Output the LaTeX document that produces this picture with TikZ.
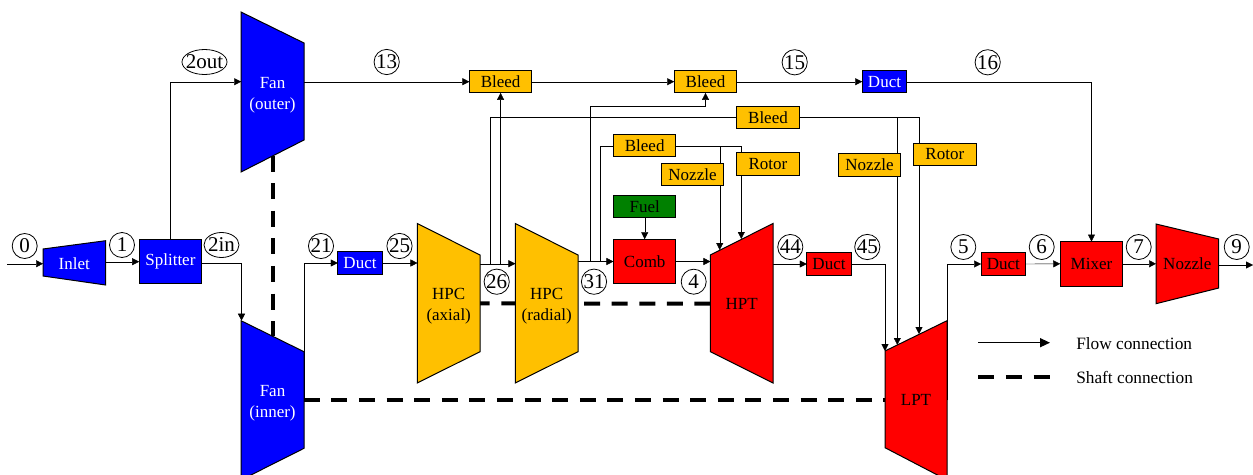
\documentclass[tikz,border=0pt]{standalone}
\usepackage{fontspec}
\setmainfont{Liberation Serif}
\usepackage{tikz}
\usetikzlibrary{arrows.meta,shapes.geometric,backgrounds}
\definecolor{fanblue}{HTML}{0000FF}
\definecolor{compamber}{HTML}{FFC000}
\definecolor{hotred}{HTML}{FF0000}
\definecolor{fuelgreen}{HTML}{008000}
\newcommand{\lowerline}{\rule{0pt}{18pt}}

\begin{document}
\begin{tikzpicture}[x=1pt,y=-1pt,line width=1.5pt,
box/.style={draw,line width=1pt,inner sep=0pt,outer sep=0pt,minimum width=62.5pt,minimum height=22.3pt,align=center,font=\fontsize{17}{21}\selectfont},
tallbox/.style={box,minimum height=44.5pt},
ductbox/.style={box,minimum width=44.5pt},
blade/.style={draw,line width=1pt},
bladetext/.style={box,draw=none,minimum height=160pt},
port/.style={draw,circle,line width=0.8pt,inner sep=0pt,minimum size=25pt,font=\fontsize{21}{21}\selectfont},
portwide/.style={port,ellipse,minimum height=25pt},
arr/.style={-{Triangle[length=7pt,width=7pt]}},
shaft/.style={line width=4pt,dash pattern=on 16pt off 11.6pt},
legendtext/.style={anchor=west,inner sep=0pt,font=\fontsize{17.3}{18}\selectfont}]
\useasboundingbox (0,0) rectangle (1253,474);
\draw[blade,fill=fanblue] (43,249)--(105.7,240.7)--(105.7,285)--(43,276)--cycle;
\draw[blade,fill=fanblue] (241,12)--(304,43)--(304,140)--(241,172)--cycle;
\draw[blade,fill=fanblue] (241,320.7)--(304,351.7)--(304,448.3)--(241,480)--cycle;
\draw[blade,fill=compamber] (417.3,223.5)--(480,255)--(480,351.7)--(417.3,383)--cycle;
\draw[blade,fill=compamber] (515.3,223.5)--(578,255)--(578,351.7)--(515.3,383)--cycle;
\draw[blade,fill=hotred] (710.3,255)--(773,223.5)--(773,383)--(710.3,351.7)--cycle;
\draw[blade,fill=hotred] (885,351)--(947,320.7)--(947,480)--(885,447.7)--cycle;
\draw[blade,fill=hotred] (1156,224)--(1218.7,239)--(1218.7,288)--(1156,303.7)--cycle;
\node[bladetext,text=white,minimum height=44pt] (inlet) at (74.3,263.5) {Inlet};
\node[tallbox,fill=fanblue,text=white] (splitter) at (170.4,261.7) {Splitter};
\node[bladetext,text=white] (fanouter) at (272.5,92) {\lowerline Fan\\(outer)};
\node[bladetext,text=white] (faninner) at (272.5,400.3) {\lowerline Fan\\(inner)};
\node[ductbox,fill=fanblue,text=white] (ductcore) at (360,263) {Duct};
\node[ductbox,fill=fanblue,text=white] (ductbypass) at (884.5,81.7) {Duct};
\node[bladetext] (hpcaxial) at (448.7,303.3) {\lowerline HPC\\(axial)};
\node[bladetext] (hpcradial) at (546.7,303.3) {\lowerline HPC\\(radial)};
\node[box,fill=compamber] (bleeda) at (500.6,81.7) {Bleed};
\node[box,fill=compamber] (bleedb) at (705.5,81.7) {Bleed};
\node[box,fill=compamber] (bleedc) at (768,117.5) {Bleed};
\node[box,fill=compamber] (bleedd) at (644.7,145.7) {Bleed};
\node[box,fill=compamber] (nozzlehpt) at (692.5,174.7) {Nozzle};
\node[box,fill=compamber] (rotorhpt) at (768,164) {Rotor};
\node[box,fill=compamber] (nozzlelpt) at (869.5,165) {Nozzle};
\node[box,fill=compamber] (rotorlpt) at (944.8,154.2) {Rotor};
\node[box,fill=fuelgreen] (fuel) at (644.7,206.5) {Fuel};
\node[tallbox,fill=hotred] (comb) at (644.7,261.5) {Comb};
\node[bladetext] (hpt) at (741.7,303.7) {HPT};
\node[bladetext] (lpt) at (916,400.3) {LPT};
\node[ductbox,fill=hotred] (ducthpt) at (829,264) {Duct};
\node[ductbox,fill=hotred] (ductlpt) at (1003.3,264) {Duct};
\node[tallbox,fill=hotred] (mixer) at (1091.5,263.8) {Mixer};
\node[bladetext,minimum height=80pt] (nozzle) at (1187.3,264) {Nozzle};
\node[port] (pa) at (24.7,246) {0};
\node[port] (pb) at (122,245) {1};
\node[portwide,minimum width=35pt] (pc) at (221.5,245) {\makebox[0pt]{2in}};
\node[portwide,minimum width=45pt] (pd) at (204.5,62) {\makebox[0pt]{2out}};
\node[port] (pe) at (386.7,62) {13};
\node[port] (pf) at (321,246) {21};
\node[port] (pg) at (399.5,246) {25};
\node[port] (ph) at (496.7,281.7) {26};
\node[port] (pi) at (594,281.7) {31};
\node[port] (pj) at (693.7,281.7) {4};
\node[port] (pk) at (790.3,247) {44};
\node[port] (pl) at (794.7,62.3) {15};
\node[port] (pm) at (867.3,247) {45};
\node[port] (pn) at (987.7,62.3) {16};
\node[port] (po) at (963.3,247) {5};
\node[port] (pp) at (1041.7,247) {6};
\node[port] (pq) at (1138.7,247) {7};
\node[port] (pr) at (1236.7,247) {9};
\node[legendtext] (flowtext) at (1075.5,343.5) {Flow connection};
\node[legendtext] (shafttext) at (1075.5,377) {Shaft connection};
\coordinate (inflow) at (7,263.7);
\coordinate (outflow) at (1253,265);
\coordinate (faninnertop) at (241.5,320.7);
\coordinate (tapfan) at (490.5,263.7);
\coordinate (tapfanb) at (500.6,263.7);
\coordinate (tapcomb) at (590.5,261.3);
\coordinate (tapcombb) at (600.5,261.3);
\coordinate (hptnozzle) at (719.7,250);
\coordinate (hptrotor) at (741.3,239);
\coordinate (lptduct) at (885,351);
\coordinate (lptnozzle) at (897.3,345);
\coordinate (lptrotor) at (919,334);
\coordinate (shaftfana) at (272.5,155.5);
\coordinate (shaftfanb) at (272.5,336);
\coordinate (flowa) at (978.3,342.7);
\coordinate (flowb) at (1050,342.7);
\coordinate (shafta) at (978.3,376.7);
\coordinate (shaftb) at (1050,376.7);
\begin{scope}[on background layer]
\draw[arr] (inflow)--(inflow -| inlet.west);
\draw[arr] (inlet.east |- splitter.west)--(splitter.west);
\draw[arr] (splitter.north) |- (fanouter.west |- bleeda.west);
\draw[arr] ([yshift=-1.6pt]splitter.east) -| (faninnertop);
\draw[arr] (fanouter.east |- bleeda.west)--(bleeda.west);
\draw[arr] (bleeda.east)--(bleedb.west);
\draw[arr] (bleedb.east)--(ductbypass.west);
\draw[arr] (ductbypass.east) -| (mixer.north);
\draw[arr] (faninner.east) |- (ductcore.west);
\draw[arr] (ductcore.east)--(ductcore.east -| hpcaxial.west);
\draw[arr] (tapfan -| hpcaxial.east)--(tapfan -| hpcradial.west);
\draw[arr] (tapfanb)--(bleeda.south);
\draw (tapfan) |- (bleedc.west);
\draw[arr] (comb.west -| hpcradial.east)--(comb.west);
\draw[arr] (tapcomb) |- (bleedb.south |- bleedc.north)--(bleedb.south);
\draw (tapcombb) |- (bleedd.west);
\draw[arr] (fuel.south)--(comb.north);
\draw[arr] (bleedd.east) -| (hptnozzle);
\draw[arr] (bleedd.east) -| (hptrotor);
\draw[arr] (comb.east)--(comb.east -| hpt.west);
\draw[arr] (ducthpt.west -| hpt.east)--(ducthpt.west);
\draw[arr] (ducthpt.east) -| (lptduct);
\draw[arr] (bleedc.east) -| (lptnozzle);
\draw[arr] (bleedc.east) -| (lptrotor);
\draw[arr] (lpt.east) |- (ductlpt.west);
\draw[arr] (ductlpt.east)--(mixer.west);
\draw[arr] (mixer.east)--(mixer.east -| nozzle.west);
\draw[arr] (outflow -| nozzle.east)--(outflow);
\draw[shaft] (hpt.west)--(hpcaxial.center);
\end{scope}
\draw[shaft] (shaftfana)--(shaftfanb);
\draw[shaft] (faninner.east)--(lpt.west);
\draw[-{Triangle[length=10pt,width=9pt]}] (flowa)--(flowb);
\draw[shaft] (shafta)--(shaftb);
\end{tikzpicture}
\end{document}
